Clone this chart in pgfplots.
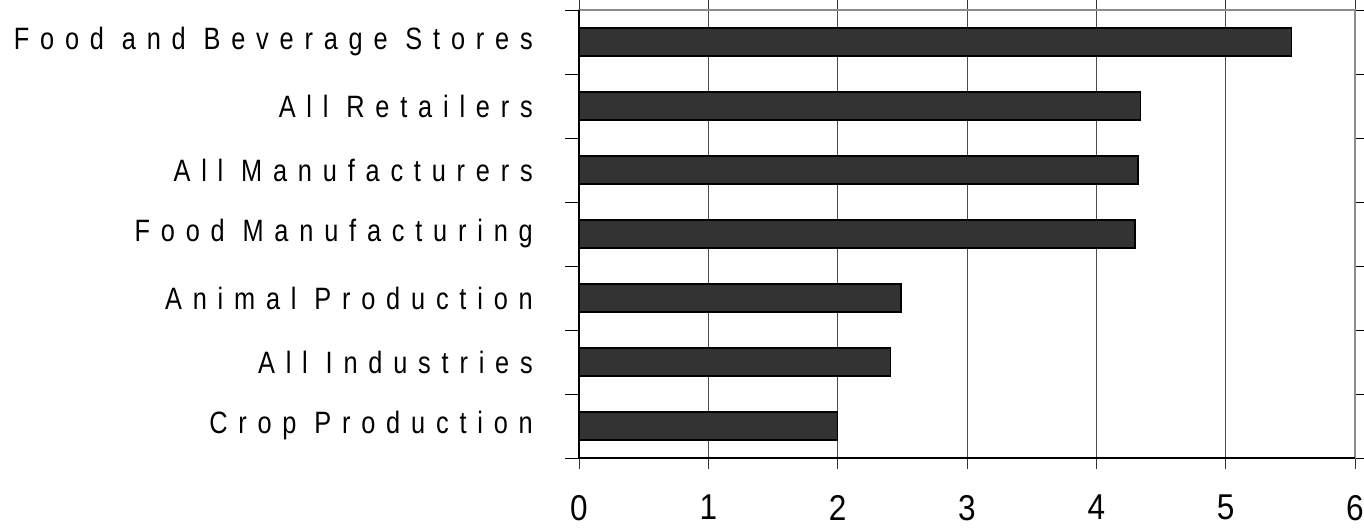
\documentclass[border=0pt]{standalone}
\usepackage{fontspec}
\setmainfont{Liberation Sans}
\newfontfamily\labfont[FakeStretch=0.82,LetterSpace=35]{Liberation Sans}
\newfontfamily\numfont[FakeStretch=0.88]{Liberation Sans}
\usepackage{pgfplots}
\pgfplotsset{compat=1.18}
\usetikzlibrary{calc}
\definecolor{barfill}{HTML}{333333}
\begin{document}
\begin{tikzpicture}
\begin{axis}[name=ax, xbar, scale only axis, width=776bp, height=448bp,
  xmin=0, xmax=6, ymin=-0.5, ymax=6.5,
  xtick={0,...,6}, ytick={0,...,6},
  yticklabels={Crop Production, All Industries, Animal Production, Food Manufacturing, All Manufacturers, All Retailers, Food and Beverage Stores},
  minor ytick={-0.5,0.5,...,6.5},
  xmajorgrids, major x grid style={draw=black!70, line width=0.9bp},
  tick align=outside, major tick length=11bp, minor tick length=14bp,
  major y tick style={draw=none},
  minor y tick style={draw=black, line width=0.9bp},
  major x tick style={draw=black!80, line width=0.9bp},
  axis line style={draw=black!45, line width=1.6bp},
  /pgf/number format/assume math mode=true,
  xticklabel style={font=\numfont\fontsize{36}{38}\selectfont, inner sep=0pt, yshift=-26bp},
  yticklabel style={font=\labfont\fontsize{31}{32}\selectfont, inner sep=0pt, xshift=-35bp},
  bar width=28bp,
  clip=false,
]
\addplot[fill=barfill, draw=black, line width=1.6bp] coordinates {
  (2.00,0) (2.41,1) (2.49,2) (4.30,3) (4.32,4) (4.34,5) (5.51,6)
};
\draw[black, line width=1.6bp] (rel axis cs:0,1) -- (rel axis cs:0,0) -- (rel axis cs:1,0);
\end{axis}
\pgfresetboundingbox
\path[use as bounding box] ($(ax.south west)+(-579bp,-70bp)$) rectangle ($(ax.north east)+(9bp,10bp)$);
\end{tikzpicture}
\end{document}
